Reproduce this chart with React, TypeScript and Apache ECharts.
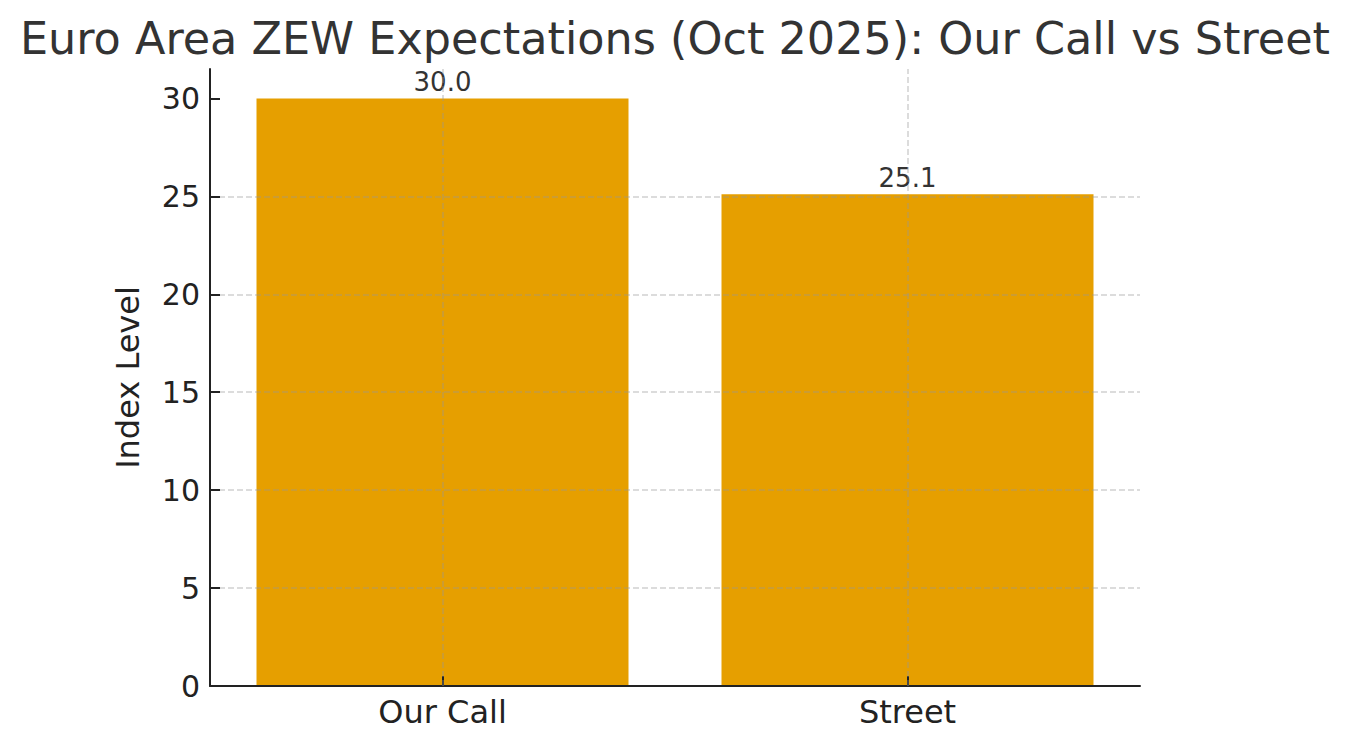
import React, { useEffect, useRef } from 'react';
import * as echarts from 'echarts';

const categories = ['Our Call', 'Street'];
const values = [30.0, 25.1];
const yTicks = [0, 5, 10, 15, 20, 25, 30];
const yMax = 31.5;

const FONT = '"DejaVu Sans", sans-serif';
const GRID_LINE = 'rgba(150,150,150,0.45)';
const AXIS_COLOR = '#222';

const App: React.FC = () => {
  const chartRef = useRef<HTMLDivElement>(null);

  useEffect(() => {
    document.body.style.margin = '0';
    if (!chartRef.current) return;
    const chart = echarts.init(chartRef.current, undefined, { renderer: 'svg' });
    chart.setOption({
      animation: false,
      backgroundColor: '#fff',
      textStyle: { fontFamily: FONT },
      title: {
        text: 'Euro Area ZEW Expectations (Oct 2025): Our Call vs Street',
        left: 'center',
        top: 11,
        textStyle: { fontFamily: FONT, fontSize: 44.5, fontWeight: 'normal', color: '#333' },
      },
      grid: { left: 210, right: 210, top: 69, bottom: 63 },
      xAxis: {
        type: 'category',
        data: categories,
        axisLine: { lineStyle: { color: AXIS_COLOR, width: 2 } },
        axisTick: { show: true, alignWithLabel: true, inside: true, length: 10, lineStyle: { color: AXIS_COLOR, width: 2 } },
        axisLabel: { fontFamily: FONT, fontSize: 32, color: AXIS_COLOR, margin: 10 },
        splitLine: { show: false },
        z: 3,
      },
      yAxis: {
        type: 'value',
        min: 0,
        max: yMax,
        interval: 5,
        name: 'Index Level',
        nameLocation: 'middle',
        nameGap: 66,
        nameTextStyle: { fontFamily: FONT, fontSize: 32, color: AXIS_COLOR },
        axisLine: { show: true, lineStyle: { color: AXIS_COLOR, width: 2 } },
        axisTick: { show: true, inside: true, length: 10, customValues: yTicks, lineStyle: { color: AXIS_COLOR, width: 2 } },
        axisLabel: { fontFamily: FONT, fontSize: 30, color: AXIS_COLOR, margin: 10, customValues: yTicks },
        splitLine: { show: true, showMaxLine: false, showMinLine: false, lineStyle: { color: GRID_LINE, type: [6, 3], width: 1.5 } },
        z: 3,
      },
      series: [
        {
          type: 'bar',
          data: values,
          barWidth: '80%',
          itemStyle: { color: '#E69F00' },
          label: {
            show: true,
            position: 'top',
            distance: 3,
            formatter: (p: any) => Number(p.value).toFixed(1),
            fontFamily: FONT,
            fontSize: 26,
            color: '#333',
          },
          markLine: {
            silent: true,
            symbol: ['none', 'none'],
            label: { show: false },
            lineStyle: { color: GRID_LINE, type: [6, 3], width: 1.5 },
            data: categories.map((c) => ({ xAxis: c })),
          },
        },
      ],
    });
    return () => chart.dispose();
  }, []);

  return <div ref={chartRef} style={{ width: 1350, height: 749 }} />;
};

export default App;
